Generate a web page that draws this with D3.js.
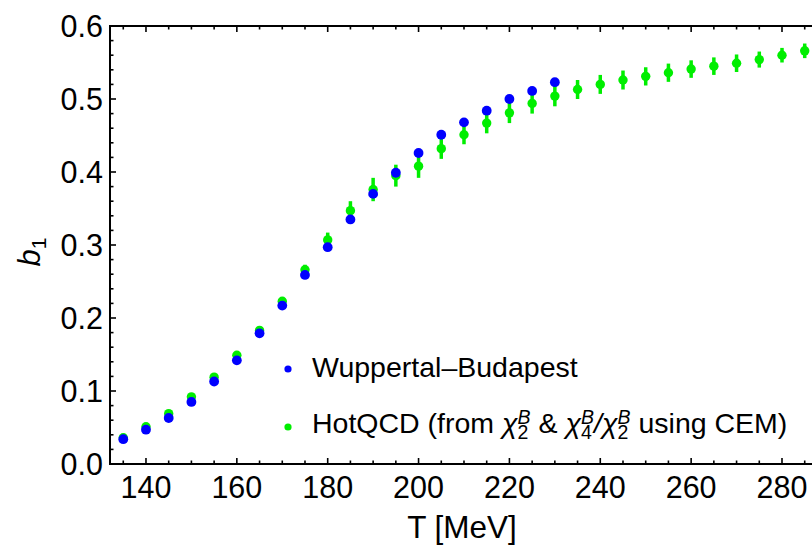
<!DOCTYPE html>
<html><head><meta charset="utf-8">
<script src="https://cdn.jsdelivr.net/npm/d3@7"></script>
<style>body{margin:0;background:#fff;} svg{display:block;font-family:"Liberation Sans",Arial,sans-serif;}</style>
</head><body>
<svg id="c" width="812" height="550"></svg>
<script>
const wbT = [135,140,145,150,155,160,165,170,175,180,185,190,195,200,205,210,215,220,225,230];
const wbB1 = [0.034,0.047,0.063,0.085,0.113,0.142,0.179,0.217,0.259,0.297,0.335,0.370,0.399,0.426,0.451,0.468,0.484,0.500,0.511,0.523];
const hqT = [135,140,145,150,155,160,165,170,175,180,185,190,195,200,205,210,215,220,225,230,235,240,245,250,255,260,265,270,275,280,285];
const hqB1 = [0.036,0.051,0.069,0.092,0.119,0.149,0.183,0.223,0.266,0.307,0.347,0.376,0.395,0.408,0.432,0.451,0.467,0.481,0.494,0.504,0.513,0.520,0.526,0.531,0.536,0.541,0.545,0.549,0.554,0.560,0.566];
const hqErr = [0.002,0.002,0.003,0.003,0.003,0.004,0.004,0.005,0.007,0.010,0.013,0.016,0.015,0.016,0.014,0.013,0.014,0.014,0.014,0.014,0.013,0.013,0.013,0.0125,0.0125,0.012,0.012,0.012,0.011,0.010,0.010];
const xTicks = [140,160,180,200,220,240,260,280];
const yTicks = [0.0,0.1,0.2,0.3,0.4,0.5,0.6];

const svg = d3.select("#c");
const L = 110, R = 816, T = 26, B = 464;
const x = d3.scaleLinear().domain([132.08, 132.08 + (R - L) / 4.543]).range([L, R]);
const y = d3.scaleLinear().domain([0, 0.6]).range([B, T]);

// minor/major ticks
const xMinor = d3.range(135, 290, 5).filter(v => v % 20 !== 0);
const yMinor = d3.range(0, 0.6001, 0.02).filter(v => Math.abs(v*10 - Math.round(v*10)) > 1e-6);
const tk = svg.append("g").attr("stroke", "#000").attr("stroke-width", 1.6);
xTicks.forEach(v => {
  tk.append("line").attr("x1", x(v)).attr("x2", x(v)).attr("y1", B).attr("y2", B - 6);
  tk.append("line").attr("x1", x(v)).attr("x2", x(v)).attr("y1", T).attr("y2", T + 6);
});
xMinor.forEach(v => {
  tk.append("line").attr("x1", x(v)).attr("x2", x(v)).attr("y1", B).attr("y2", B - 3.5);
  tk.append("line").attr("x1", x(v)).attr("x2", x(v)).attr("y1", T).attr("y2", T + 3.5);
});
yTicks.forEach(v => {
  tk.append("line").attr("x1", L).attr("x2", L + 6).attr("y1", y(v)).attr("y2", y(v));
});
yMinor.forEach(v => {
  tk.append("line").attr("x1", L).attr("x2", L + 3.5).attr("y1", y(v)).attr("y2", y(v));
});

// frame
svg.append("rect").attr("x", L).attr("y", T).attr("width", R - L).attr("height", B - T)
  .attr("fill", "none").attr("stroke", "#000").attr("stroke-width", 2);

// tick labels
svg.append("g").selectAll("text").data(xTicks).join("text")
  .attr("x", d => x(d)).attr("y", B + 34).attr("text-anchor", "middle")
  .attr("font-size", 30.5).text(d => d);
svg.append("g").selectAll("text").data(yTicks).join("text")
  .attr("x", L - 7).attr("y", d => y(d) + 10.5).attr("text-anchor", "end")
  .attr("font-size", 30.5).text(d => d.toFixed(1));

// axis labels
svg.append("text").attr("x", 462).attr("y", 538).attr("text-anchor", "middle")
  .attr("font-size", 31.5).text("T [MeV]");
const yl = svg.append("text").attr("transform", "translate(40,252) rotate(-90)")
  .attr("text-anchor", "middle").attr("font-size", 31);
yl.append("tspan").attr("font-style", "italic").text("b");
yl.append("tspan").attr("font-size", 21).attr("dy", 6).text("1");

// green (HotQCD) with error bars
const hq = hqT.map((t, i) => ({t, v: hqB1[i], e: hqErr[i]}));
const green = "#00ee00";
svg.append("g").selectAll("line").data(hq).join("line")
  .attr("x1", d => x(d.t)).attr("x2", d => x(d.t))
  .attr("y1", d => y(d.v - d.e)).attr("y2", d => y(d.v + d.e))
  .attr("stroke", green).attr("stroke-width", 3.5);
svg.append("g").selectAll("circle").data(hq).join("circle")
  .attr("cx", d => x(d.t)).attr("cy", d => y(d.v)).attr("r", 4.7).attr("fill", green);

// blue (Wuppertal-Budapest)
const wb = wbT.map((t, i) => ({t, v: wbB1[i]}));
svg.append("g").selectAll("circle").data(wb).join("circle")
  .attr("cx", d => x(d.t)).attr("cy", d => y(d.v)).attr("r", 4.9).attr("fill", "#0000ff");

// legend
svg.append("circle").attr("cx", 288).attr("cy", 369).attr("r", 3.6).attr("fill", "#0000ff");
svg.append("circle").attr("cx", 288).attr("cy", 427).attr("r", 3.6).attr("fill", green);
svg.append("text").attr("x", 312).attr("y", 377).attr("font-size", 28.5).text("Wuppertal\u2013Budapest");

const lt = svg.append("text").attr("x", 312).attr("y", 433).attr("font-size", 28.5);
function plain(s) { lt.append("tspan").text(s); }
function chi(sub) {
  lt.append("tspan").attr("font-style", "italic").text("\u03c7");
  const s = lt.append("tspan").attr("font-size", 19.5).attr("dy", 6).text(sub);
  const w = s.node().getComputedTextLength();
  lt.append("tspan").attr("font-size", 19.5).attr("font-style", "italic")
    .attr("dx", -w).attr("dy", -15).text("B");
}
plain("HotQCD (from ");
chi("2");
lt.append("tspan").attr("dy", 9).text(" & ");
chi("4");
lt.append("tspan").attr("dy", 9).attr("font-style", "italic").text("/");
chi("2");
lt.append("tspan").attr("dy", 9).text(" using CEM)");
</script>
</body></html>
